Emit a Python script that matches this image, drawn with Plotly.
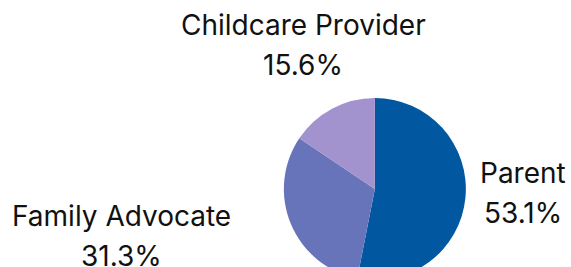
import plotly.graph_objects as go

labels = ["Parent", "Family Advocate", "Childcare Provider"]
values = [53.1, 31.3, 15.6]
colors = ["#0257A1", "#6874BA", "#A293CF"]

W, H = 571, 280

# label placement (pixel centres of the two text lines) for each category
label_cx = [523, 121, 303]
name_cy = [173, 216, 25]
pct_cy = [213, 256, 65]

pcts = [f"{v:.1f}%" for v in values]

fig = go.Figure(
    go.Pie(
        labels=labels,
        values=values,
        marker=dict(colors=colors, line=dict(color="white", width=0)),
        sort=False,
        direction="clockwise",
        rotation=0,
        textinfo="none",
        hoverinfo="label+percent",
        showlegend=False,
        domain=dict(x=[0.4, 0.913], y=[0.0, 0.65]),
    )
)

font = dict(family="Inter", size=28, color="#111111")
for lab, pct, cx, ny, py in zip(labels, pcts, label_cx, name_cy, pct_cy):
    fig.add_annotation(
        x=cx / W, y=1 - ny / H, xref="paper", yref="paper",
        text=lab, showarrow=False, xanchor="center", yanchor="middle", font=font,
    )
    fig.add_annotation(
        x=cx / W, y=1 - py / H, xref="paper", yref="paper",
        text=pct, showarrow=False, xanchor="center", yanchor="middle", font=font,
    )

fig.update_layout(
    width=W, height=H,
    margin=dict(l=0, r=0, t=0, b=0),
    paper_bgcolor="white",
    plot_bgcolor="white",
)

fig.write_html(
    "out.html",
    config={"displayModeBar": False},
    post_script="document.body.style.margin='0';document.documentElement.style.overflow='hidden';document.body.style.overflow='hidden';",
)
